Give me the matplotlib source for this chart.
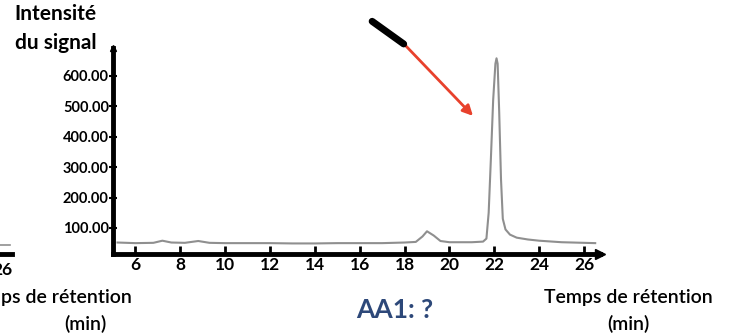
import matplotlib.pyplot as plt

plt.rcParams['font.family'] = ['Lato', 'DejaVu Sans']

# Chromatogram trace (retention time in min, signal intensity)
temps = [5.2, 6.0, 6.8, 7.2, 7.6, 8.2, 8.8, 9.3, 10.0, 11.0, 12.0, 13.0, 14.0, 15.0,
         16.0, 17.0, 18.0, 18.5, 18.8, 19.0, 19.3, 19.6, 20.0, 21.0, 21.5, 21.65,
         21.75, 21.85, 21.95, 22.05, 22.1, 22.15, 22.22, 22.3, 22.38, 22.5, 22.7,
         23.0, 23.5, 24.0, 25.0, 26.0, 26.5]
signal = [52, 50, 51, 58, 52, 51, 57, 51, 50, 50, 50, 49, 49, 50,
          50, 50, 52, 54, 72, 89, 75, 57, 53, 53, 55, 65,
          150, 330, 520, 640, 658, 640, 480, 260, 130, 95, 78,
          68, 62, 58, 53, 51, 50]

x_ticks = [6, 8, 10, 12, 14, 16, 18, 20, 22, 24, 26]
y_ticks = [100, 200, 300, 400, 500, 600]

fig = plt.figure(figsize=(7.34, 3.33), dpi=100)
ax = fig.add_axes([0.154, 0.237, 0.663, 0.619])

ax.plot(temps, signal, color='#8f8f8f', linewidth=1.5)

ax.set_xlim(5.0, 26.7)
ax.set_ylim(14, 692)

for side in ['top', 'right']:
    ax.spines[side].set_visible(False)
for side in ['left', 'bottom']:
    ax.spines[side].set_linewidth(3.5)
    ax.spines[side].set_color('black')

# arrow heads at the axis ends
ax.plot(1, 0, '>', color='black', markersize=7, transform=ax.transAxes, clip_on=False)
ax.plot(0, 1, '^', color='black', markersize=5, transform=ax.transAxes, clip_on=False)

ax.set_xticks(x_ticks)
ax.set_xticklabels([str(t) for t in x_ticks], fontsize=12.5, fontweight='bold')
ax.set_yticks(y_ticks)
ax.set_yticklabels(['%.2f' % v for v in y_ticks], fontsize=10.5, fontweight='bold')
ax.tick_params(axis='x', direction='in', length=6, width=2, pad=2)
ax.tick_params(axis='y', direction='inout', length=6, width=1.5, pad=0)

# axis titles
fig.text(0.076, 0.958, 'Intensité', ha='center', va='center', fontsize=15, fontweight='bold')
fig.text(0.076, 0.871, 'du signal', ha='center', va='center', fontsize=15, fontweight='bold')
fig.text(0.856, 0.108, 'Temps de rétention', ha='center', va='center', fontsize=14, fontweight='semibold')
fig.text(0.856, 0.027, '(min)', ha='center', va='center', fontsize=14, fontweight='semibold')

fig.text(0.538, 0.069, 'AA1: ?', ha='center', va='center', fontsize=19,
         fontweight='bold', color='#2d4879')

# pieces of the neighbouring chart on the left
fig.text(0.18, 0.108, 'ps de rétention', ha='right', va='center', fontsize=14, fontweight='semibold')
fig.text(0.116, 0.027, '(min)', ha='center', va='center', fontsize=14, fontweight='semibold')
fig.text(0.017, 0.19, '26', ha='right', va='center', fontsize=12.5, fontweight='bold')
fig.add_artist(plt.Line2D([0, 0.017], [0.237, 0.237], color='black', linewidth=3.5))
fig.add_artist(plt.Line2D([0, 0.014], [0.264, 0.264], color='#8f8f8f', linewidth=1.2))

# pointer arrow to the main peak
fig.add_artist(plt.Line2D([0.507, 0.550], [0.936, 0.868], color='black', linewidth=5,
                          solid_capstyle='round'))
ax.annotate('', xy=(0.647, 0.646), xycoords='figure fraction',
            xytext=(0.543, 0.885), textcoords='figure fraction',
            arrowprops=dict(arrowstyle='-|>', color='#e8412c', linewidth=2,
                            mutation_scale=15))

fig.savefig('out.png', dpi=100)
